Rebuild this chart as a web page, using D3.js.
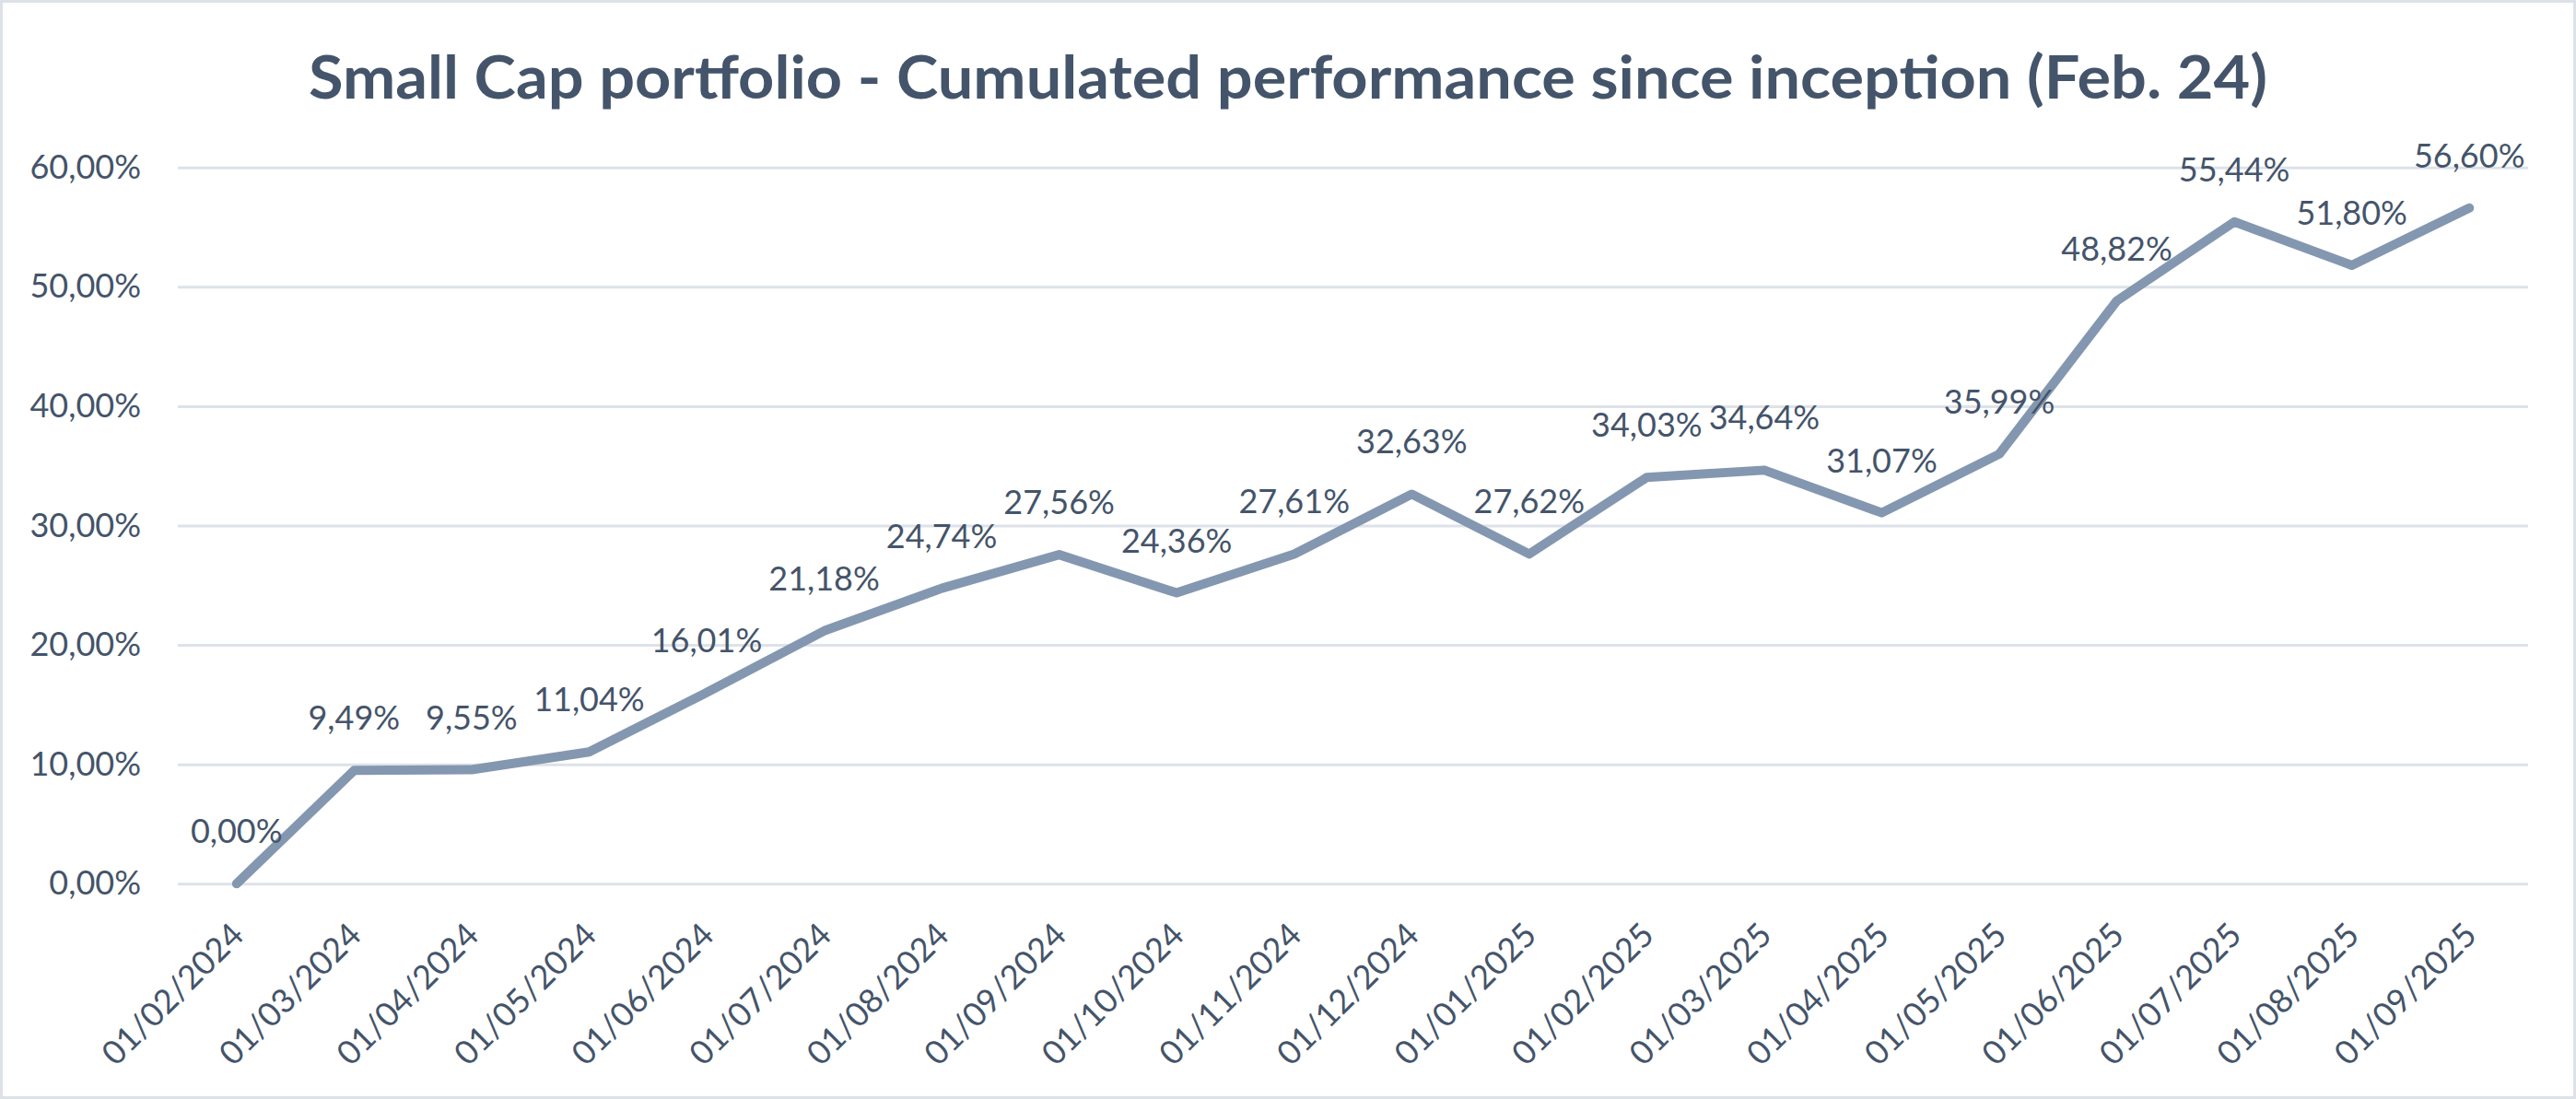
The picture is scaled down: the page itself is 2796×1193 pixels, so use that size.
<!DOCTYPE html>
<html>
<head>
<meta charset="utf-8">
<script src="https://cdn.jsdelivr.net/npm/d3@7"></script>
<style>
  html, body { margin: 0; padding: 0; background: #ffffff; }
  svg { display: block; }
</style>
</head>
<body>
<script>
const titleText = "Small Cap portfolio - Cumulated performance since inception (Feb. 24)";
const categories = ["01/02/2024","01/03/2024","01/04/2024","01/05/2024","01/06/2024","01/07/2024","01/08/2024","01/09/2024","01/10/2024","01/11/2024","01/12/2024","01/01/2025","01/02/2025","01/03/2025","01/04/2025","01/05/2025","01/06/2025","01/07/2025","01/08/2025","01/09/2025"];
const values = [0.00, 9.49, 9.55, 11.04, 16.01, 21.18, 24.74, 27.56, 24.36, 27.61, 32.63, 27.62, 34.03, 34.64, 31.07, 35.99, 48.82, 55.44, 51.80, 56.60];
const yTicks = [0, 10, 20, 30, 40, 50, 60];

const W = 2796, H = 1193;
const plot = { left: 193, right: 2744, top: 181.7, bottom: 959.3 };
const textColor = "#44546a";
const lineColor = "#8497b0";
const gridColor = "#dde2e9";
const font = "Lato, 'Open Sans', sans-serif";

const locale = d3.formatLocale({ decimal: ",", thousands: ".", grouping: [3], currency: ["", "€"] });
const fmt = v => locale.format(".2f")(v) + "%";

const svg = d3.select("body").append("svg").attr("width", W).attr("height", H);

// outer border
svg.append("rect").attr("x", 1.5).attr("y", 1.5).attr("width", W - 3).attr("height", H - 3)
  .attr("fill", "#fff").attr("stroke", gridColor).attr("stroke-width", 3);

// title
svg.append("text").attr("x", W / 2).attr("y", 107)
  .attr("text-anchor", "middle")
  .attr("font-family", font).attr("font-weight", 700).attr("font-size", 65)
  .attr("fill", textColor)
  .attr("textLength", 2126).attr("lengthAdjust", "spacingAndGlyphs")
  .text(titleText);

const x = d3.scaleBand().domain(categories).range([plot.left, plot.right]).paddingInner(0).paddingOuter(0);
const y = d3.scaleLinear().domain([0, 60]).range([plot.bottom, plot.top]);

// grid
const yAxis = d3.axisLeft(y).tickValues(yTicks).tickSize(-(plot.right - plot.left)).tickPadding(40).tickFormat(fmt);
const gy = svg.append("g").attr("transform", `translate(${plot.left},0)`).call(yAxis);
gy.select(".domain").remove();
gy.selectAll(".tick line").attr("stroke", gridColor).attr("stroke-width", 3);
gy.selectAll(".tick text").attr("fill", textColor).attr("font-family", font).attr("font-size", 36);

// x axis labels
const xAxis = d3.axisBottom(x).tickSize(0).tickPadding(0);
const gx = svg.append("g").attr("transform", `translate(0,${plot.bottom})`).call(xAxis);
gx.select(".domain").remove();
gx.selectAll(".tick text")
  .attr("fill", textColor).attr("font-family", font).attr("font-size", 36)
  .attr("text-anchor", "end")
  .attr("dy", null).attr("y", 0)
  .attr("transform", "translate(10,58) rotate(-45)");

// line
const line = d3.line().x((d, i) => x(categories[i]) + x.bandwidth() / 2).y(d => y(d));
svg.append("path").datum(values)
  .attr("d", line).attr("fill", "none")
  .attr("stroke", lineColor).attr("stroke-width", 10)
  .attr("stroke-linejoin", "round").attr("stroke-linecap", "round");

// data labels
svg.append("g").selectAll("text").data(values).join("text")
  .attr("x", (d, i) => x(categories[i]) + x.bandwidth() / 2)
  .attr("y", d => y(d) - 44)
  .attr("text-anchor", "middle")
  .attr("font-family", font).attr("font-size", 36)
  .attr("fill", textColor)
  .text(d => fmt(d));
</script>
</body>
</html>
